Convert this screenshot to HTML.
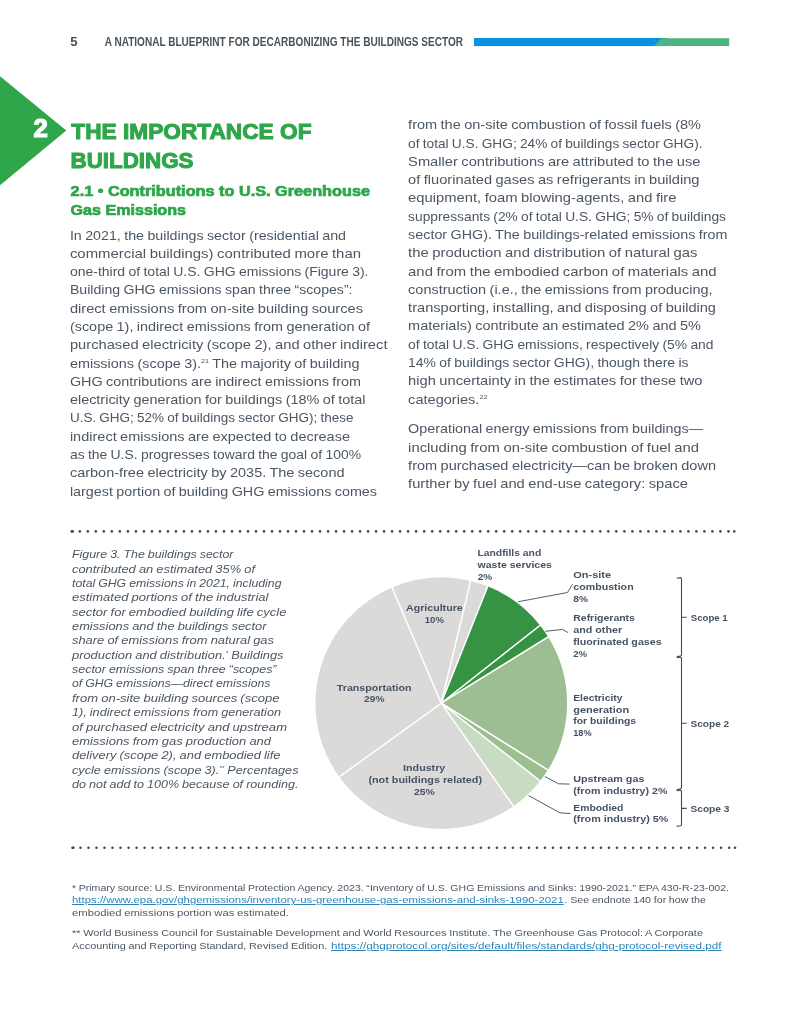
<!DOCTYPE html>
<html lang="en"><head><meta charset="utf-8"><title>A National Blueprint for Decarbonizing the Buildings Sector</title>
<style>
html,body{margin:0;padding:0;background:#fff;}
body{width:800px;height:1035px;position:relative;overflow:hidden;font-family:"Liberation Sans", sans-serif;}
.t{position:absolute;display:block;white-space:nowrap;margin:0;padding:0;font-weight:normal;}
h1,h2,p,figure,figcaption,header,footer,main{margin:0;padding:0;font-size:12px;}
.t{transform-origin:0 50%;}
.t.hd{font-weight:bold;color:#47525e;}
.t.num{font-weight:bold;color:#fff;-webkit-text-stroke:1.2px #fff;}
.t.h1{font-weight:bold;color:#2fa64a;-webkit-text-stroke:1px #2fa64a;}
.t.h2{font-weight:bold;color:#2fa64a;-webkit-text-stroke:0.7px #2fa64a;}
.b{color:#4c5764;word-spacing:-0.5px;}
.c{color:#4c5764;font-style:italic;word-spacing:-0.4px;}
.f{color:#4c5764;word-spacing:-0.3px;}
.f a{color:#2b84b8;text-decoration:underline;text-decoration-thickness:0.8px;text-underline-offset:1.2px;}
.t.lb{font-weight:bold;color:#445264;}
sup{font-size:50%;vertical-align:baseline;position:relative;top:-0.74em;line-height:0;}
svg{position:absolute;left:0;top:0;}
</style></head>
<body>
<svg width="800" height="200" viewBox="0 0 800 200" aria-hidden="true">
<rect x="474" y="38" width="193.5" height="8.1" fill="#0b91dd"/>
<polygon points="661.2,38.2 729.2,38.2 729.2,46 654.2,46" fill="#4eb37f"/>
<polygon points="0,76.2 66.3,130.4 0,185.2" fill="#2fa64a"/>
</svg>
<header>
<span class="t hd" style="left:70px;top:34px;font-size:12px;line-height:16px;transform:translateX(0.30px) scaleX(1.1000);">5</span>
<span class="t hd" style="left:104px;top:34px;font-size:12px;line-height:16px;transform:translateX(0.70px) scaleX(0.8380);">A NATIONAL BLUEPRINT FOR DECARBONIZING THE BUILDINGS SECTOR</span>
</header>
<main>
<h1>
<span class="t num" style="left:33px;top:113px;font-size:25.8px;line-height:30px;transform:translateX(0.50px);">2</span>
<span class="t h1" style="left:71px;top:119px;font-size:21.3px;line-height:26px;transform:translateX(0.30px) scaleX(1.0647);">THE IMPORTANCE OF</span>
<span class="t h1" style="left:70px;top:148px;font-size:21.3px;line-height:26px;transform:translateX(0.55px) scaleX(1.0496);">BUILDINGS</span>
</h1>
<h2>
<span class="t h2" style="left:70px;top:182px;font-size:14.4px;line-height:18px;transform:translateX(0.60px) scaleX(1.1302);">2.1 • Contributions to U.S. Greenhouse</span>
<span class="t h2" style="left:70px;top:201px;font-size:14.4px;line-height:18px;transform:translateX(0.50px) scaleX(1.1193);">Gas Emissions</span>
</h2>
<p>
<span class="t b" style="left:69px;top:228px;font-size:12.4px;line-height:16px;transform:translateX(0.90px) scaleX(1.1497);">In 2021, the buildings sector (residential and</span>
<span class="t b" style="left:69px;top:246px;font-size:12.4px;line-height:16px;transform:translateX(0.90px) scaleX(1.2039);">commercial buildings) contributed more than</span>
<span class="t b" style="left:69px;top:264px;font-size:12.4px;line-height:16px;transform:translateX(0.90px) scaleX(1.1295);">one-third of total U.S. GHG emissions (Figure 3).</span>
<span class="t b" style="left:69px;top:282px;font-size:12.4px;line-height:16px;transform:translateX(0.90px) scaleX(1.1387);">Building GHG emissions span three “scopes”:</span>
<span class="t b" style="left:69px;top:301px;font-size:12.4px;line-height:16px;transform:translateX(0.90px) scaleX(1.1810);">direct emissions from on-site building sources</span>
<span class="t b" style="left:69px;top:319px;font-size:12.4px;line-height:16px;transform:translateX(0.90px) scaleX(1.1631);">(scope 1), indirect emissions from generation of</span>
<span class="t b" style="left:69px;top:337px;font-size:12.4px;line-height:16px;transform:translateX(0.90px) scaleX(1.1865);">purchased electricity (scope 2), and other indirect</span>
<span class="t b" style="left:69px;top:356px;font-size:12.4px;line-height:16px;transform:translateX(0.90px) scaleX(1.1638);">emissions (scope 3).<sup>21</sup> The majority of building</span>
<span class="t b" style="left:69px;top:374px;font-size:12.4px;line-height:16px;transform:translateX(0.90px) scaleX(1.1601);">GHG contributions are indirect emissions from</span>
<span class="t b" style="left:69px;top:392px;font-size:12.4px;line-height:16px;transform:translateX(0.90px) scaleX(1.1642);">electricity generation for buildings (18% of total</span>
<span class="t b" style="left:69px;top:410px;font-size:12.4px;line-height:16px;transform:translateX(0.90px) scaleX(1.0897);">U.S. GHG; 52% of buildings sector GHG); these</span>
<span class="t b" style="left:69px;top:429px;font-size:12.4px;line-height:16px;transform:translateX(0.90px) scaleX(1.1707);">indirect emissions are expected to decrease</span>
<span class="t b" style="left:69px;top:447px;font-size:12.4px;line-height:16px;transform:translateX(0.90px) scaleX(1.1235);">as the U.S. progresses toward the goal of 100%</span>
<span class="t b" style="left:69px;top:465px;font-size:12.4px;line-height:16px;transform:translateX(0.90px) scaleX(1.1691);">carbon-free electricity by 2035. The second</span>
<span class="t b" style="left:69px;top:484px;font-size:12.4px;line-height:16px;transform:translateX(0.90px) scaleX(1.1563);">largest portion of building GHG emissions comes</span>
</p>
<p>
<span class="t b" style="left:408px;top:117px;font-size:12.4px;line-height:16px;transform:translateX(0.10px) scaleX(1.1719);">from the on-site combustion of fossil fuels (8%</span>
<span class="t b" style="left:408px;top:136px;font-size:12.4px;line-height:16px;transform:translateX(0.10px) scaleX(1.1041);">of total U.S. GHG; 24% of buildings sector GHG).</span>
<span class="t b" style="left:408px;top:154px;font-size:12.4px;line-height:16px;transform:translateX(0.10px) scaleX(1.1837);">Smaller contributions are attributed to the use</span>
<span class="t b" style="left:408px;top:172px;font-size:12.4px;line-height:16px;transform:translateX(0.10px) scaleX(1.1796);">of fluorinated gases as refrigerants in building</span>
<span class="t b" style="left:408px;top:190px;font-size:12.4px;line-height:16px;transform:translateX(0.10px) scaleX(1.1913);">equipment, foam blowing-agents, and fire</span>
<span class="t b" style="left:408px;top:209px;font-size:12.4px;line-height:16px;transform:translateX(0.10px) scaleX(1.1117);">suppressants (2% of total U.S. GHG; 5% of buildings</span>
<span class="t b" style="left:408px;top:227px;font-size:12.4px;line-height:16px;transform:translateX(0.10px) scaleX(1.1565);">sector GHG). The buildings-related emissions from</span>
<span class="t b" style="left:408px;top:245px;font-size:12.4px;line-height:16px;transform:translateX(0.10px) scaleX(1.1981);">the production and distribution of natural gas</span>
<span class="t b" style="left:408px;top:264px;font-size:12.4px;line-height:16px;transform:translateX(0.10px) scaleX(1.2007);">and from the embodied carbon of materials and</span>
<span class="t b" style="left:408px;top:282px;font-size:12.4px;line-height:16px;transform:translateX(0.10px) scaleX(1.1682);">construction (i.e., the emissions from producing,</span>
<span class="t b" style="left:408px;top:300px;font-size:12.4px;line-height:16px;transform:translateX(0.10px) scaleX(1.1782);">transporting, installing, and disposing of building</span>
<span class="t b" style="left:408px;top:318px;font-size:12.4px;line-height:16px;transform:translateX(0.10px) scaleX(1.1695);">materials) contribute an estimated 2% and 5%</span>
<span class="t b" style="left:408px;top:337px;font-size:12.4px;line-height:16px;transform:translateX(0.10px) scaleX(1.1173);">of total U.S. GHG emissions, respectively (5% and</span>
<span class="t b" style="left:408px;top:355px;font-size:12.4px;line-height:16px;transform:translateX(0.10px) scaleX(1.1249);">14% of buildings sector GHG), though there is</span>
<span class="t b" style="left:408px;top:373px;font-size:12.4px;line-height:16px;transform:translateX(0.10px) scaleX(1.1843);">high uncertainty in the estimates for these two</span>
<span class="t b" style="left:408px;top:392px;font-size:12.4px;line-height:16px;transform:translateX(0.10px) scaleX(1.1760);">categories.<sup>22</sup></span>
</p>
<p>
<span class="t b" style="left:408px;top:421px;font-size:12.4px;line-height:16px;transform:translateX(0.10px) scaleX(1.1570);">Operational energy emissions from buildings—</span>
<span class="t b" style="left:408px;top:440px;font-size:12.4px;line-height:16px;transform:translateX(0.10px) scaleX(1.1977);">including from on-site combustion of fuel and</span>
<span class="t b" style="left:408px;top:458px;font-size:12.4px;line-height:16px;transform:translateX(0.10px) scaleX(1.1723);">from purchased electricity—can be broken down</span>
<span class="t b" style="left:408px;top:476px;font-size:12.4px;line-height:16px;transform:translateX(0.10px) scaleX(1.1859);">further by fuel and end-use category: space</span>
</p>
<figure>
<figcaption>
<span class="t c" style="left:72px;top:547px;font-size:11.1px;line-height:14px;transform:scaleX(1.1173);">Figure 3. The buildings sector</span>
<span class="t c" style="left:72px;top:562px;font-size:11.1px;line-height:14px;transform:scaleX(1.1618);">contributed an estimated 35% of</span>
<span class="t c" style="left:72px;top:576px;font-size:11.1px;line-height:14px;transform:scaleX(1.1075);">total GHG emissions in 2021, including</span>
<span class="t c" style="left:72px;top:590px;font-size:11.1px;line-height:14px;transform:scaleX(1.1740);">estimated portions of the industrial</span>
<span class="t c" style="left:72px;top:605px;font-size:11.1px;line-height:14px;transform:scaleX(1.1721);">sector for embodied building life cycle</span>
<span class="t c" style="left:72px;top:619px;font-size:11.1px;line-height:14px;transform:scaleX(1.1578);">emissions and the buildings sector</span>
<span class="t c" style="left:72px;top:633px;font-size:11.1px;line-height:14px;transform:scaleX(1.1627);">share of emissions from natural gas</span>
<span class="t c" style="left:72px;top:648px;font-size:11.1px;line-height:14px;transform:scaleX(1.1602);">production and distribution.<sup>*</sup> Buildings</span>
<span class="t c" style="left:72px;top:662px;font-size:11.1px;line-height:14px;transform:scaleX(1.1228);">sector emissions span three “scopes”</span>
<span class="t c" style="left:72px;top:676px;font-size:11.1px;line-height:14px;transform:scaleX(1.1062);">of GHG emissions—direct emissions</span>
<span class="t c" style="left:72px;top:691px;font-size:11.1px;line-height:14px;transform:scaleX(1.1749);">from on-site building sources (scope</span>
<span class="t c" style="left:72px;top:705px;font-size:11.1px;line-height:14px;transform:scaleX(1.1396);">1), indirect emissions from generation</span>
<span class="t c" style="left:72px;top:720px;font-size:11.1px;line-height:14px;transform:scaleX(1.1763);">of purchased electricity and upstream</span>
<span class="t c" style="left:72px;top:734px;font-size:11.1px;line-height:14px;transform:scaleX(1.1675);">emissions from gas production and</span>
<span class="t c" style="left:72px;top:748px;font-size:11.1px;line-height:14px;transform:scaleX(1.1628);">delivery (scope 2), and embodied life</span>
<span class="t c" style="left:72px;top:763px;font-size:11.1px;line-height:14px;transform:scaleX(1.1428);">cycle emissions (scope 3).<sup>**</sup> Percentages</span>
<span class="t c" style="left:72px;top:777px;font-size:11.1px;line-height:14px;transform:scaleX(1.1317);">do not add to 100% because of rounding.</span>
</figcaption>
<svg width="800" height="1035" viewBox="0 0 800 1035" role="img">
<g fill="#3d4b5b"><circle cx="71.8" cy="531.4" r="1.3"/><circle cx="79.8" cy="531.4" r="1.3"/><circle cx="87.8" cy="531.4" r="1.3"/><circle cx="95.8" cy="531.4" r="1.3"/><circle cx="103.8" cy="531.4" r="1.3"/><circle cx="111.8" cy="531.4" r="1.3"/><circle cx="119.8" cy="531.4" r="1.3"/><circle cx="127.9" cy="531.4" r="1.3"/><circle cx="135.9" cy="531.4" r="1.3"/><circle cx="143.9" cy="531.4" r="1.3"/><circle cx="151.9" cy="531.4" r="1.3"/><circle cx="159.9" cy="531.4" r="1.3"/><circle cx="167.9" cy="531.4" r="1.3"/><circle cx="175.9" cy="531.4" r="1.3"/><circle cx="183.9" cy="531.4" r="1.3"/><circle cx="191.9" cy="531.4" r="1.3"/><circle cx="199.9" cy="531.4" r="1.3"/><circle cx="207.9" cy="531.4" r="1.3"/><circle cx="215.9" cy="531.4" r="1.3"/><circle cx="224.0" cy="531.4" r="1.3"/><circle cx="232.0" cy="531.4" r="1.3"/><circle cx="240.0" cy="531.4" r="1.3"/><circle cx="248.0" cy="531.4" r="1.3"/><circle cx="256.0" cy="531.4" r="1.3"/><circle cx="264.0" cy="531.4" r="1.3"/><circle cx="272.0" cy="531.4" r="1.3"/><circle cx="280.0" cy="531.4" r="1.3"/><circle cx="288.0" cy="531.4" r="1.3"/><circle cx="296.0" cy="531.4" r="1.3"/><circle cx="304.0" cy="531.4" r="1.3"/><circle cx="312.0" cy="531.4" r="1.3"/><circle cx="320.0" cy="531.4" r="1.3"/><circle cx="328.1" cy="531.4" r="1.3"/><circle cx="336.1" cy="531.4" r="1.3"/><circle cx="344.1" cy="531.4" r="1.3"/><circle cx="352.1" cy="531.4" r="1.3"/><circle cx="360.1" cy="531.4" r="1.3"/><circle cx="368.1" cy="531.4" r="1.3"/><circle cx="376.1" cy="531.4" r="1.3"/><circle cx="384.1" cy="531.4" r="1.3"/><circle cx="392.1" cy="531.4" r="1.3"/><circle cx="400.1" cy="531.4" r="1.3"/><circle cx="408.1" cy="531.4" r="1.3"/><circle cx="416.1" cy="531.4" r="1.3"/><circle cx="424.2" cy="531.4" r="1.3"/><circle cx="432.2" cy="531.4" r="1.3"/><circle cx="440.2" cy="531.4" r="1.3"/><circle cx="448.2" cy="531.4" r="1.3"/><circle cx="456.2" cy="531.4" r="1.3"/><circle cx="464.2" cy="531.4" r="1.3"/><circle cx="472.2" cy="531.4" r="1.3"/><circle cx="480.2" cy="531.4" r="1.3"/><circle cx="488.2" cy="531.4" r="1.3"/><circle cx="496.2" cy="531.4" r="1.3"/><circle cx="504.2" cy="531.4" r="1.3"/><circle cx="512.2" cy="531.4" r="1.3"/><circle cx="520.2" cy="531.4" r="1.3"/><circle cx="528.3" cy="531.4" r="1.3"/><circle cx="536.3" cy="531.4" r="1.3"/><circle cx="544.3" cy="531.4" r="1.3"/><circle cx="552.3" cy="531.4" r="1.3"/><circle cx="560.3" cy="531.4" r="1.3"/><circle cx="568.3" cy="531.4" r="1.3"/><circle cx="576.3" cy="531.4" r="1.3"/><circle cx="584.3" cy="531.4" r="1.3"/><circle cx="592.3" cy="531.4" r="1.3"/><circle cx="600.3" cy="531.4" r="1.3"/><circle cx="608.3" cy="531.4" r="1.3"/><circle cx="616.3" cy="531.4" r="1.3"/><circle cx="624.4" cy="531.4" r="1.3"/><circle cx="632.4" cy="531.4" r="1.3"/><circle cx="640.4" cy="531.4" r="1.3"/><circle cx="648.4" cy="531.4" r="1.3"/><circle cx="656.4" cy="531.4" r="1.3"/><circle cx="664.4" cy="531.4" r="1.3"/><circle cx="672.4" cy="531.4" r="1.3"/><circle cx="680.4" cy="531.4" r="1.3"/><circle cx="688.4" cy="531.4" r="1.3"/><circle cx="696.4" cy="531.4" r="1.3"/><circle cx="704.4" cy="531.4" r="1.3"/><circle cx="712.4" cy="531.4" r="1.3"/><circle cx="720.4" cy="531.4" r="1.3"/><circle cx="728.5" cy="531.4" r="1.3"/><circle cx="72.7" cy="531.4" r="1.3"/><circle cx="734.3" cy="531.4" r="1.3"/></g>
<g fill="#3d4b5b"><circle cx="72.5" cy="847.8" r="1.3"/><circle cx="80.5" cy="847.8" r="1.3"/><circle cx="88.5" cy="847.8" r="1.3"/><circle cx="96.5" cy="847.8" r="1.3"/><circle cx="104.5" cy="847.8" r="1.3"/><circle cx="112.5" cy="847.8" r="1.3"/><circle cx="120.5" cy="847.8" r="1.3"/><circle cx="128.6" cy="847.8" r="1.3"/><circle cx="136.6" cy="847.8" r="1.3"/><circle cx="144.6" cy="847.8" r="1.3"/><circle cx="152.6" cy="847.8" r="1.3"/><circle cx="160.6" cy="847.8" r="1.3"/><circle cx="168.6" cy="847.8" r="1.3"/><circle cx="176.6" cy="847.8" r="1.3"/><circle cx="184.6" cy="847.8" r="1.3"/><circle cx="192.6" cy="847.8" r="1.3"/><circle cx="200.6" cy="847.8" r="1.3"/><circle cx="208.6" cy="847.8" r="1.3"/><circle cx="216.6" cy="847.8" r="1.3"/><circle cx="224.7" cy="847.8" r="1.3"/><circle cx="232.7" cy="847.8" r="1.3"/><circle cx="240.7" cy="847.8" r="1.3"/><circle cx="248.7" cy="847.8" r="1.3"/><circle cx="256.7" cy="847.8" r="1.3"/><circle cx="264.7" cy="847.8" r="1.3"/><circle cx="272.7" cy="847.8" r="1.3"/><circle cx="280.7" cy="847.8" r="1.3"/><circle cx="288.7" cy="847.8" r="1.3"/><circle cx="296.7" cy="847.8" r="1.3"/><circle cx="304.7" cy="847.8" r="1.3"/><circle cx="312.7" cy="847.8" r="1.3"/><circle cx="320.7" cy="847.8" r="1.3"/><circle cx="328.8" cy="847.8" r="1.3"/><circle cx="336.8" cy="847.8" r="1.3"/><circle cx="344.8" cy="847.8" r="1.3"/><circle cx="352.8" cy="847.8" r="1.3"/><circle cx="360.8" cy="847.8" r="1.3"/><circle cx="368.8" cy="847.8" r="1.3"/><circle cx="376.8" cy="847.8" r="1.3"/><circle cx="384.8" cy="847.8" r="1.3"/><circle cx="392.8" cy="847.8" r="1.3"/><circle cx="400.8" cy="847.8" r="1.3"/><circle cx="408.8" cy="847.8" r="1.3"/><circle cx="416.8" cy="847.8" r="1.3"/><circle cx="424.9" cy="847.8" r="1.3"/><circle cx="432.9" cy="847.8" r="1.3"/><circle cx="440.9" cy="847.8" r="1.3"/><circle cx="448.9" cy="847.8" r="1.3"/><circle cx="456.9" cy="847.8" r="1.3"/><circle cx="464.9" cy="847.8" r="1.3"/><circle cx="472.9" cy="847.8" r="1.3"/><circle cx="480.9" cy="847.8" r="1.3"/><circle cx="488.9" cy="847.8" r="1.3"/><circle cx="496.9" cy="847.8" r="1.3"/><circle cx="504.9" cy="847.8" r="1.3"/><circle cx="512.9" cy="847.8" r="1.3"/><circle cx="520.9" cy="847.8" r="1.3"/><circle cx="529.0" cy="847.8" r="1.3"/><circle cx="537.0" cy="847.8" r="1.3"/><circle cx="545.0" cy="847.8" r="1.3"/><circle cx="553.0" cy="847.8" r="1.3"/><circle cx="561.0" cy="847.8" r="1.3"/><circle cx="569.0" cy="847.8" r="1.3"/><circle cx="577.0" cy="847.8" r="1.3"/><circle cx="585.0" cy="847.8" r="1.3"/><circle cx="593.0" cy="847.8" r="1.3"/><circle cx="601.0" cy="847.8" r="1.3"/><circle cx="609.0" cy="847.8" r="1.3"/><circle cx="617.0" cy="847.8" r="1.3"/><circle cx="625.1" cy="847.8" r="1.3"/><circle cx="633.1" cy="847.8" r="1.3"/><circle cx="641.1" cy="847.8" r="1.3"/><circle cx="649.1" cy="847.8" r="1.3"/><circle cx="657.1" cy="847.8" r="1.3"/><circle cx="665.1" cy="847.8" r="1.3"/><circle cx="673.1" cy="847.8" r="1.3"/><circle cx="681.1" cy="847.8" r="1.3"/><circle cx="689.1" cy="847.8" r="1.3"/><circle cx="697.1" cy="847.8" r="1.3"/><circle cx="705.1" cy="847.8" r="1.3"/><circle cx="713.1" cy="847.8" r="1.3"/><circle cx="721.1" cy="847.8" r="1.3"/><circle cx="729.2" cy="847.8" r="1.3"/><circle cx="73.4" cy="847.8" r="1.3"/><circle cx="735.0" cy="847.8" r="1.3"/></g>
<g stroke="#fff" stroke-width="1.4" stroke-linejoin="round">
<path d="M441.25,703.20 L470.78,580.20 A126.50,126.50 0 0 1 488.02,585.66 Z" fill="#dcdad9"/>
<path d="M441.25,703.20 L488.02,585.66 A126.50,126.50 0 0 1 540.66,624.97 Z" fill="#369344"/>
<path d="M441.25,703.20 L540.66,624.97 A126.50,126.50 0 0 1 548.76,636.54 Z" fill="#369344"/>
<path d="M441.25,703.20 L548.76,636.54 A126.50,126.50 0 0 1 548.41,770.42 Z" fill="#9dbd93"/>
<path d="M441.25,703.20 L548.41,770.42 A126.50,126.50 0 0 1 540.66,781.43 Z" fill="#9bbf8f"/>
<path d="M441.25,703.20 L540.66,781.43 A126.50,126.50 0 0 1 513.81,806.82 Z" fill="#c9dcc3"/>
<path d="M441.25,703.20 L513.81,806.82 A126.50,126.50 0 0 1 338.65,777.20 Z" fill="#dcdad9"/>
<path d="M441.25,703.20 L338.65,777.20 A126.50,126.50 0 0 1 391.82,586.76 Z" fill="#dcdad9"/>
<path d="M441.25,703.20 L391.82,586.76 A126.50,126.50 0 0 1 470.78,580.20 Z" fill="#dcdad9"/>
</g>
<g fill="none" stroke="#3f4c5c" stroke-width="0.9">
<polyline points="518,601.75 567.5,592.5 572.5,584.25"/>
<polyline points="545.5,631.25 562.5,629.5 568,632.5"/>
<polyline points="545,776.6 558.5,783.8 569.6,784.1"/>
<polyline points="528.5,795.5 560,812.9 570.5,813.5"/>
</g>
<g fill="none" stroke="#3f4c5c" stroke-width="1.1">
<path d="M676.70,578.20 L680.50,577.70 L681.50,578.60 V655.15 L680.50,656.05 L676.70,656.65 M681.50,617.25 H686.80"/>
<path d="M676.70,657.70 L680.50,657.20 L681.50,658.10 V788.00 L680.50,788.90 L676.70,789.50 M681.50,723.25 H686.80"/>
<path d="M676.70,790.60 L680.50,790.10 L681.50,791.00 V824.90 L680.50,825.80 L676.70,826.40 M681.50,808.40 H686.80"/>
</g>
</svg>
<div class="labels">
<span class="t lb" style="left:477px;top:546px;font-size:9.6px;line-height:13px;transform:translateX(0.50px) scaleX(1.0765);">Landfills and</span>
<span class="t lb" style="left:477px;top:558px;font-size:9.6px;line-height:13px;transform:translateX(0.50px) scaleX(1.0982);">waste services</span>
<span class="t lb" style="left:477px;top:570px;font-size:9.6px;line-height:13px;transform:translateX(0.70px) scaleX(1.0450);">2%</span>
<span class="t lb" style="left:573px;top:568px;font-size:9.6px;line-height:13px;transform:translateX(0.25px) scaleX(1.1463);">On-site</span>
<span class="t lb" style="left:573px;top:580px;font-size:9.6px;line-height:13px;transform:translateX(0.25px) scaleX(1.1108);">combustion</span>
<span class="t lb" style="left:573px;top:592px;font-size:9.6px;line-height:13px;transform:translateX(0.25px) scaleX(1.0559);">8%</span>
<span class="t lb" style="left:573px;top:611px;font-size:9.6px;line-height:13px;transform:translateX(0.25px) scaleX(1.0908);">Refrigerants</span>
<span class="t lb" style="left:573px;top:623px;font-size:9.6px;line-height:13px;transform:translateX(0.25px) scaleX(1.1185);">and other</span>
<span class="t lb" style="left:573px;top:635px;font-size:9.6px;line-height:13px;transform:translateX(0.25px) scaleX(1.1128);">fluorinated gases</span>
<span class="t lb" style="left:573px;top:647px;font-size:9.6px;line-height:13px;transform:translateX(0.25px) scaleX(1.0018);">2%</span>
<span class="t lb" style="left:573px;top:691px;font-size:9.6px;line-height:13px;transform:translateX(0.25px) scaleX(1.0714);">Electricity</span>
<span class="t lb" style="left:573px;top:703px;font-size:9.6px;line-height:13px;transform:translateX(0.25px) scaleX(1.1397);">generation</span>
<span class="t lb" style="left:573px;top:714px;font-size:9.6px;line-height:13px;transform:translateX(0.25px) scaleX(1.0827);">for buildings</span>
<span class="t lb" style="left:573px;top:726px;font-size:9.6px;line-height:13px;transform:translateX(0.25px) scaleX(0.9582);">18%</span>
<span class="t lb" style="left:573px;top:772px;font-size:9.6px;line-height:13px;transform:translateX(0.25px) scaleX(1.1213);">Upstream gas</span>
<span class="t lb" style="left:573px;top:784px;font-size:9.6px;line-height:13px;transform:translateX(0.25px) scaleX(1.1107);">(from industry) 2%</span>
<span class="t lb" style="left:573px;top:801px;font-size:9.6px;line-height:13px;transform:translateX(0.25px) scaleX(1.0814);">Embodied</span>
<span class="t lb" style="left:573px;top:812px;font-size:9.6px;line-height:13px;transform:translateX(0.25px) scaleX(1.1225);">(from industry) 5%</span>
<span class="t lb" style="left:690px;top:611px;font-size:9.6px;line-height:13px;transform:translateX(0.70px) scaleX(1.0055);">Scope 1</span>
<span class="t lb" style="left:690px;top:717px;font-size:9.6px;line-height:13px;transform:translateX(0.50px) scaleX(1.0504);">Scope 2</span>
<span class="t lb" style="left:690px;top:802px;font-size:9.6px;line-height:13px;transform:translateX(0.50px) scaleX(1.0572);">Scope 3</span>
<span class="t lb" style="left:406px;top:601px;font-size:9.6px;line-height:13px;transform:scaleX(1.1077);">Agriculture</span>
<span class="t lb" style="left:424px;top:613px;font-size:9.6px;line-height:13px;transform:translateX(0.80px) scaleX(0.9946);">10%</span>
<span class="t lb" style="left:336px;top:681px;font-size:9.6px;line-height:13px;transform:translateX(0.80px) scaleX(1.1136);">Transportation</span>
<span class="t lb" style="left:364px;top:692px;font-size:9.6px;line-height:13px;transform:translateX(0.10px) scaleX(1.0571);">29%</span>
<span class="t lb" style="left:403px;top:761px;font-size:9.6px;line-height:13px;transform:translateX(0.10px) scaleX(1.1147);">Industry</span>
<span class="t lb" style="left:368px;top:773px;font-size:9.6px;line-height:13px;transform:translateX(0.40px) scaleX(1.1277);">(not buildings related)</span>
<span class="t lb" style="left:414px;top:785px;font-size:9.6px;line-height:13px;transform:scaleX(1.0884);">25%</span>
</div>
</figure>
</main>
<footer>
<p>
<span class="t f" style="left:72px;top:881px;font-size:9.4px;line-height:13px;transform:scaleX(1.1252);">* Primary source: U.S. Environmental Protection Agency. 2023. “Inventory of U.S. GHG Emissions and Sinks: 1990-2021.” EPA 430-R-23-002.</span>
<span class="t f" style="left:72px;top:893px;font-size:9.4px;line-height:13px;transform:scaleX(1.2161);"><a>https://www.epa.gov/ghgemissions/inventory-us-greenhouse-gas-emissions-and-sinks-1990-2021</a></span>
<span class="t f" style="left:564px;top:893px;font-size:9.4px;line-height:13px;transform:translateX(0.60px) scaleX(1.1419);">. See endnote 140 for how the</span>
<span class="t f" style="left:72px;top:906px;font-size:9.4px;line-height:13px;transform:scaleX(1.2011);">embodied emissions portion was estimated.</span>
</p>
<p>
<span class="t f" style="left:72px;top:926px;font-size:9.4px;line-height:13px;transform:scaleX(1.1645);">** World Business Council for Sustainable Development and World Resources Institute. The Greenhouse Gas Protocol: A Corporate</span>
<span class="t f" style="left:72px;top:939px;font-size:9.4px;line-height:13px;transform:scaleX(1.1602);">Accounting and Reporting Standard, Revised Edition.</span>
<span class="t f" style="left:331px;top:939px;font-size:9.4px;line-height:13px;transform:scaleX(1.2489);"><a>https://ghgprotocol.org/sites/default/files/standards/ghg-protocol-revised.pdf</a></span>
</p>
</footer>
</body></html>
